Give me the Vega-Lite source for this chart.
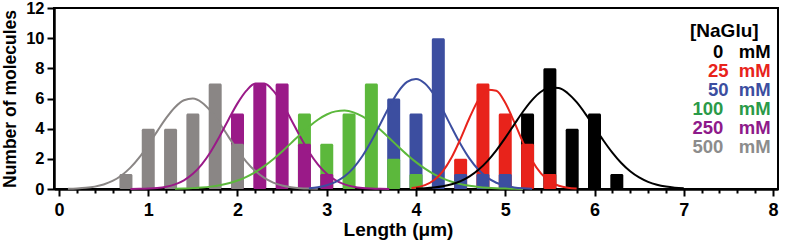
{
  "$schema": "https://vega.github.io/schema/vega-lite/v6.json",
  "width": 724,
  "height": 181,
  "autosize": "none",
  "padding": {"left": 54, "top": 8, "right": 7, "bottom": 54},
  "datasets": {
    "bars": [
      {"len": 5.25, "n": 5, "conc": "0"}, {"len": 5.5, "n": 8, "conc": "0"}, {"len": 5.75, "n": 4, "conc": "0"}, {"len": 6.0, "n": 5, "conc": "0"}, {"len": 6.25, "n": 1, "conc": "0"},
      {"len": 4.5, "n": 2, "conc": "25"}, {"len": 4.75, "n": 7, "conc": "25"}, {"len": 5.0, "n": 5, "conc": "25"}, {"len": 5.25, "n": 3, "conc": "25"}, {"len": 5.5, "n": 1, "conc": "25"},
      {"len": 3.75, "n": 6, "conc": "50"}, {"len": 4.0, "n": 5, "conc": "50"}, {"len": 4.25, "n": 10, "conc": "50"}, {"len": 4.5, "n": 1, "conc": "50"}, {"len": 4.75, "n": 1, "conc": "50"}, {"len": 5.0, "n": 1, "conc": "50"},
      {"len": 2.75, "n": 5, "conc": "100"}, {"len": 3.0, "n": 3, "conc": "100"}, {"len": 3.25, "n": 5, "conc": "100"}, {"len": 3.5, "n": 7, "conc": "100"}, {"len": 3.75, "n": 2, "conc": "100"}, {"len": 4.0, "n": 1, "conc": "100"},
      {"len": 2.0, "n": 5, "conc": "250"}, {"len": 2.25, "n": 7, "conc": "250"}, {"len": 2.5, "n": 7, "conc": "250"}, {"len": 2.75, "n": 3, "conc": "250"}, {"len": 3.0, "n": 1, "conc": "250"},
      {"len": 0.75, "n": 1, "conc": "500"}, {"len": 1.0, "n": 4, "conc": "500"}, {"len": 1.25, "n": 4, "conc": "500"}, {"len": 1.5, "n": 5, "conc": "500"}, {"len": 1.75, "n": 7, "conc": "500"}, {"len": 2.0, "n": 3, "conc": "500"}
    ],
    "curves": [
      {"x":0.1,"y":0.016,"conc":"500"},{"x":0.2,"y":0.036,"conc":"500"},{"x":0.3,"y":0.077,"conc":"500"},{"x":0.4,"y":0.157,"conc":"500"},{"x":0.5,"y":0.298,"conc":"500"},{"x":0.6,"y":0.533,"conc":"500"},{"x":0.7,"y":0.896,"conc":"500"},{"x":0.8,"y":1.414,"conc":"500"},{"x":0.9,"y":2.097,"conc":"500"},{"x":1.0,"y":2.921,"conc":"500"},{"x":1.1,"y":3.821,"conc":"500"},{"x":1.2,"y":4.696,"conc":"500"},{"x":1.3,"y":5.422,"conc":"500"},{"x":1.4,"y":5.881,"conc":"500"},{"x":1.5,"y":5.993,"conc":"500"},{"x":1.6,"y":5.736,"conc":"500"},{"x":1.7,"y":5.158,"conc":"500"},{"x":1.8,"y":4.357,"conc":"500"},{"x":1.9,"y":3.458,"conc":"500"},{"x":2.0,"y":2.578,"conc":"500"},{"x":2.1,"y":1.805,"conc":"500"},{"x":2.2,"y":1.187,"conc":"500"},{"x":2.3,"y":0.734,"conc":"500"},{"x":2.4,"y":0.426,"conc":"500"},{"x":2.5,"y":0.232,"conc":"500"},{"x":2.6,"y":0.119,"conc":"500"},{"x":2.7,"y":0.057,"conc":"500"},{"x":2.8,"y":0.026,"conc":"500"},{"x":2.9,"y":0.011,"conc":"500"},
      {"x":0.8,"y":0.005,"conc":"250"},{"x":0.9,"y":0.013,"conc":"250"},{"x":1.0,"y":0.032,"conc":"250"},{"x":1.1,"y":0.072,"conc":"250"},{"x":1.2,"y":0.155,"conc":"250"},{"x":1.3,"y":0.31,"conc":"250"},{"x":1.4,"y":0.577,"conc":"250"},{"x":1.5,"y":1.005,"conc":"250"},{"x":1.6,"y":1.633,"conc":"250"},{"x":1.7,"y":2.474,"conc":"250"},{"x":1.8,"y":3.497,"conc":"250"},{"x":1.9,"y":4.613,"conc":"250"},{"x":2.0,"y":5.678,"conc":"250"},{"x":2.1,"y":6.522,"conc":"250"},{"x":2.2,"y":6.989,"conc":"250"},{"x":2.3,"y":6.989,"conc":"250"},{"x":2.4,"y":6.522,"conc":"250"},{"x":2.5,"y":5.678,"conc":"250"},{"x":2.6,"y":4.613,"conc":"250"},{"x":2.7,"y":3.497,"conc":"250"},{"x":2.8,"y":2.474,"conc":"250"},{"x":2.9,"y":1.633,"conc":"250"},{"x":3.0,"y":1.005,"conc":"250"},{"x":3.1,"y":0.577,"conc":"250"},{"x":3.2,"y":0.31,"conc":"250"},{"x":3.3,"y":0.155,"conc":"250"},{"x":3.4,"y":0.072,"conc":"250"},{"x":3.5,"y":0.032,"conc":"250"},{"x":3.6,"y":0.013,"conc":"250"},{"x":3.7,"y":0.005,"conc":"250"},
      {"x":1.3,"y":0.019,"conc":"100"},{"x":1.4,"y":0.033,"conc":"100"},{"x":1.5,"y":0.058,"conc":"100"},{"x":1.6,"y":0.097,"conc":"100"},{"x":1.7,"y":0.158,"conc":"100"},{"x":1.8,"y":0.25,"conc":"100"},{"x":1.9,"y":0.382,"conc":"100"},{"x":2.0,"y":0.565,"conc":"100"},{"x":2.1,"y":0.81,"conc":"100"},{"x":2.2,"y":1.125,"conc":"100"},{"x":2.3,"y":1.513,"conc":"100"},{"x":2.4,"y":1.971,"conc":"100"},{"x":2.5,"y":2.488,"conc":"100"},{"x":2.6,"y":3.042,"conc":"100"},{"x":2.7,"y":3.602,"conc":"100"},{"x":2.8,"y":4.131,"conc":"100"},{"x":2.9,"y":4.589,"conc":"100"},{"x":3.0,"y":4.938,"conc":"100"},{"x":3.1,"y":5.147,"conc":"100"},{"x":3.2,"y":5.197,"conc":"100"},{"x":3.3,"y":5.082,"conc":"100"},{"x":3.4,"y":4.814,"conc":"100"},{"x":3.5,"y":4.416,"conc":"100"},{"x":3.6,"y":3.925,"conc":"100"},{"x":3.7,"y":3.379,"conc":"100"},{"x":3.8,"y":2.817,"conc":"100"},{"x":3.9,"y":2.275,"conc":"100"},{"x":4.0,"y":1.78,"conc":"100"},{"x":4.1,"y":1.349,"conc":"100"},{"x":4.2,"y":0.99,"conc":"100"},{"x":4.3,"y":0.704,"conc":"100"},{"x":4.4,"y":0.485,"conc":"100"},{"x":4.5,"y":0.323,"conc":"100"},{"x":4.6,"y":0.209,"conc":"100"},{"x":4.7,"y":0.131,"conc":"100"},{"x":4.8,"y":0.079,"conc":"100"},{"x":4.9,"y":0.046,"conc":"100"},{"x":5.0,"y":0.026,"conc":"100"},{"x":5.1,"y":0.015,"conc":"100"},{"x":5.2,"y":0.008,"conc":"100"},
      {"x":2.8,"y":0.054,"conc":"50"},{"x":2.9,"y":0.119,"conc":"50"},{"x":3.0,"y":0.245,"conc":"50"},{"x":3.1,"y":0.47,"conc":"50"},{"x":3.2,"y":0.841,"conc":"50"},{"x":3.3,"y":1.404,"conc":"50"},{"x":3.4,"y":2.187,"conc":"50"},{"x":3.5,"y":3.179,"conc":"50"},{"x":3.6,"y":4.311,"conc":"50"},{"x":3.7,"y":5.455,"conc":"50"},{"x":3.8,"y":6.442,"conc":"50"},{"x":3.9,"y":7.098,"conc":"50"},{"x":4.0,"y":7.298,"conc":"50"},{"x":4.1,"y":7.0,"conc":"50"},{"x":4.2,"y":6.266,"conc":"50"},{"x":4.3,"y":5.233,"conc":"50"},{"x":4.4,"y":4.079,"conc":"50"},{"x":4.5,"y":2.966,"conc":"50"},{"x":4.6,"y":2.013,"conc":"50"},{"x":4.7,"y":1.274,"conc":"50"},{"x":4.8,"y":0.753,"conc":"50"},{"x":4.9,"y":0.415,"conc":"50"},{"x":5.0,"y":0.213,"conc":"50"},{"x":5.1,"y":0.102,"conc":"50"},{"x":5.2,"y":0.046,"conc":"50"},{"x":5.3,"y":0.019,"conc":"50"},
      {"x":3.95,"y":0.06,"conc":"25"},{"x":4.0,"y":0.1,"conc":"25"},{"x":4.1,"y":0.256,"conc":"25"},{"x":4.2,"y":0.582,"conc":"25"},{"x":4.3,"y":1.175,"conc":"25"},{"x":4.4,"y":2.103,"conc":"25"},{"x":4.5,"y":3.344,"conc":"25"},{"x":4.6,"y":4.722,"conc":"25"},{"x":4.7,"y":5.919,"conc":"25"},{"x":4.8,"y":6.587,"conc":"25"},{"x":4.9,"y":6.509,"conc":"25"},{"x":5.0,"y":5.711,"conc":"25"},{"x":5.1,"y":4.45,"conc":"25"},{"x":5.2,"y":3.078,"conc":"25"},{"x":5.3,"y":1.89,"conc":"25"},{"x":5.4,"y":1.031,"conc":"25"},{"x":5.5,"y":0.499,"conc":"25"},{"x":5.6,"y":0.215,"conc":"25"},{"x":5.7,"y":0.082,"conc":"25"},{"x":5.8,"y":0.028,"conc":"25"},
      {"x":4.0,"y":0.025,"conc":"0"},{"x":4.1,"y":0.05,"conc":"0"},{"x":4.2,"y":0.097,"conc":"0"},{"x":4.3,"y":0.178,"conc":"0"},{"x":4.4,"y":0.313,"conc":"0"},{"x":4.5,"y":0.524,"conc":"0"},{"x":4.6,"y":0.836,"conc":"0"},{"x":4.7,"y":1.274,"conc":"0"},{"x":4.8,"y":1.851,"conc":"0"},{"x":4.9,"y":2.564,"conc":"0"},{"x":5.0,"y":3.389,"conc":"0"},{"x":5.1,"y":4.271,"conc":"0"},{"x":5.2,"y":5.137,"conc":"0"},{"x":5.3,"y":5.891,"conc":"0"},{"x":5.4,"y":6.445,"conc":"0"},{"x":5.5,"y":6.724,"conc":"0"},{"x":5.6,"y":6.693,"conc":"0"},{"x":5.7,"y":6.354,"conc":"0"},{"x":5.8,"y":5.754,"conc":"0"},{"x":5.9,"y":4.969,"conc":"0"},{"x":6.0,"y":4.094,"conc":"0"},{"x":6.1,"y":3.217,"conc":"0"},{"x":6.2,"y":2.412,"conc":"0"},{"x":6.3,"y":1.724,"conc":"0"},{"x":6.4,"y":1.176,"conc":"0"},{"x":6.5,"y":0.765,"conc":"0"},{"x":6.6,"y":0.474,"conc":"0"},{"x":6.7,"y":0.281,"conc":"0"},{"x":6.8,"y":0.159,"conc":"0"},{"x":6.9,"y":0.085,"conc":"0"},{"x":7.0,"y":0.044,"conc":"0"}
    ]
  },
  "layer": [
    {
      "data": {"name": "bars"},
      "mark": {"type": "bar", "size": 13, "cornerRadius": 1.5},
      "encoding": {
        "x": {
          "field": "len", "type": "quantitative",
          "scale": {"domain": [0, 8], "nice": false, "zero": false},
          "axis": {
            "values": [0, 1, 2, 3, 4, 5, 6, 7, 8],
            "format": "d",
            "tickSize": 7,
            "labelFontSize": 18,
            "labelPadding": 5,
            "labelFlush": false,
            "labelOverlap": false,
            "title": "Length (μm)",
            "titleFontSize": 19,
            "titleX": 344,
            "titleY": 31
          }
        },
        "y": {
          "field": "n", "type": "quantitative", "stack": null,
          "scale": {"domain": [0, 12], "nice": false},
          "axis": {
            "values": [0, 2, 4, 6, 8, 10, 12],
            "tickCount": 7,
            "tickSize": 7,
            "labelFontSize": 16.5,
            "labelPadding": 3,
            "labelOverlap": false,
            "labelFlush": false,
            "title": "Number of molecules",
            "titleFontSize": 17.5,
            "titlePadding": 6
          }
        },
        "color": {
          "field": "conc", "type": "nominal",
          "scale": {
            "domain": ["0", "25", "50", "100", "250", "500"],
            "range": ["#000000", "#e8231b", "#3c4ea0", "#5cb83c", "#9a1a88", "#8a8685"]
          },
          "legend": {
            "orient": "none",
            "legendX": 636,
            "legendY": 14,
            "padding": 0,
            "title": "\u00a0\u00a0[NaGlu]",
            "titleFont": "Liberation Sans",
            "titleFontSize": 19,
            "titleFontWeight": "bold",
            "titleColor": "black",
            "titlePadding": 2,
            "labelFont": "Liberation Sans",
            "labelFontSize": 18.5,
            "labelFontWeight": "bold",
            "labelOffset": -16,
            "labelLimit": 300,
            "symbolSize": 0,
            "symbolOpacity": 0,
            "symbolStrokeWidth": 0,
            "rowPadding": -1,
            "labelExpr": "{'0':'\u200b\u00a0\u00a0\u00a0\u00a00\u00a0\u00a0\u00a0mM','25':'\u200b\u00a0\u00a0\u00a025\u00a0\u00a0mM','50':'\u200b\u00a0\u00a0\u00a050\u00a0\u00a0mM','100':'100\u00a0\u00a0\u00a0mM','250':'250\u00a0\u00a0\u00a0mM','500':'500\u00a0\u00a0\u00a0mM'}[datum.label]",
            "encode": {
              "labels": {
                "update": {
                  "fill": {"signal": "{'0':'#000000','25':'#e8231b','50':'#3c4ea0','100':'#2a9a48','250':'#8e1a8a','500':'#8c8c8c'}[datum.value]"}
                }
              }
            }
          }
        }
      }
    },
    {
      "data": {"name": "curves"},
      "mark": {"type": "line", "interpolate": "monotone", "strokeWidth": 2},
      "encoding": {
        "x": {
          "field": "x", "type": "quantitative",
          "axis": {
            "orient": "bottom",
            "values": [0.2, 0.4, 0.6, 0.8, 1.2, 1.4, 1.6, 1.8, 2.2, 2.4, 2.6, 2.8, 3.2, 3.4, 3.6, 3.8, 4.2, 4.4, 4.6, 4.8, 5.2, 5.4, 5.6, 5.8, 6.2, 6.4, 6.6, 6.8, 7.2, 7.4, 7.6, 7.8],
            "labels": false,
            "domain": false,
            "tickSize": 4,
            "title": null
          }
        },
        "y": {
          "field": "y", "type": "quantitative",
          "axis": {
            "values": [0, 2, 4, 6, 8, 10, 12],
            "tickCount": 7,
            "tickSize": 7,
            "labelFontSize": 16.5,
            "labelPadding": 3,
            "labelOverlap": false,
            "labelFlush": false,
            "title": "Number of molecules",
            "titleFontSize": 17.5,
            "titlePadding": 6
          }
        },
        "color": {"field": "conc", "type": "nominal"}
      }
    }
  ],
  "resolve": {"axis": {"x": "independent"}},
  "config": {
    "font": "Liberation Sans",
    "view": {"stroke": "black", "strokeWidth": 2},
    "axis": {
      "grid": false,
      "domainColor": "black",
      "domainWidth": 2.5,
      "tickColor": "black",
      "tickWidth": 2,
      "labelColor": "black",
      "labelFont": "Liberation Sans",
      "labelFontWeight": "bold",
      "titleColor": "black",
      "titleFont": "Liberation Sans",
      "titleFontWeight": "bold"
    },
    "legend": {"labelFont": "Liberation Sans", "titleFont": "Liberation Sans"}
  }
}
